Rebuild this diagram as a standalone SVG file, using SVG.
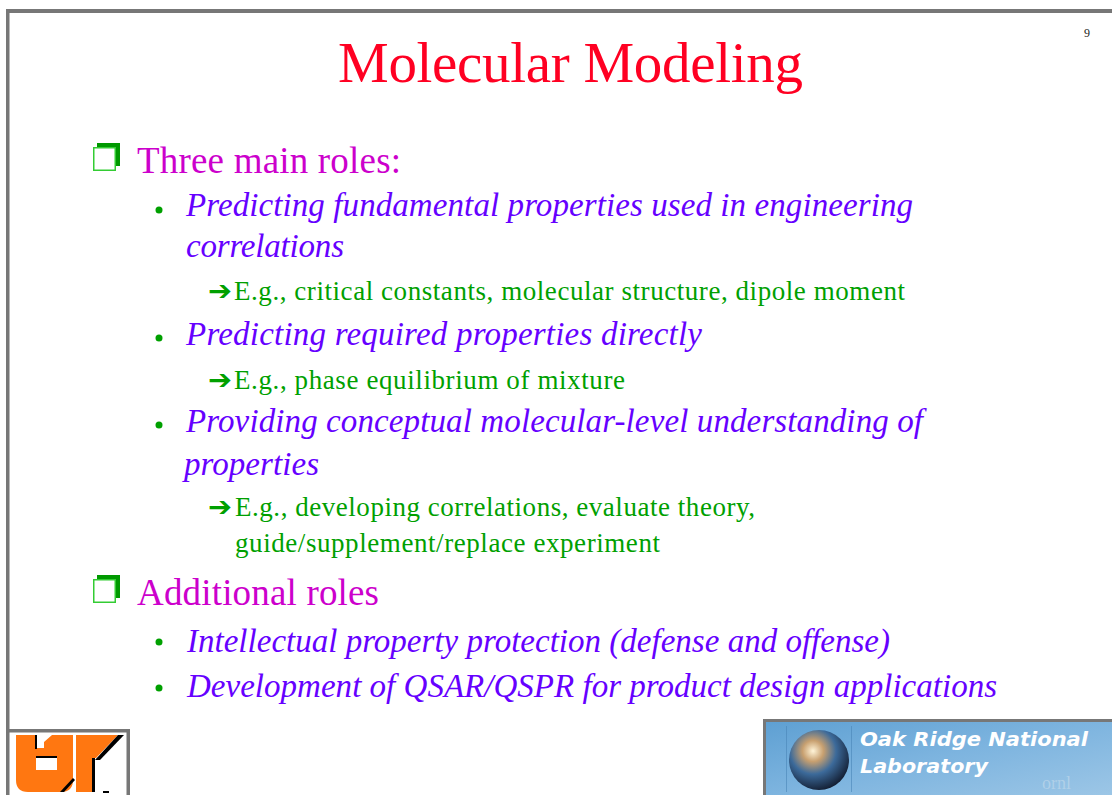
<svg xmlns="http://www.w3.org/2000/svg" width="1112" height="795" viewBox="0 0 1112 795">
<defs>
<style>
.title{font-family:"Liberation Serif","Times New Roman",serif;font-size:57px;fill:#FF0022}
.h1{font-family:"Liberation Serif","Times New Roman",serif;font-size:37px;fill:#CC00CC}
.it{font-family:"Liberation Serif","Times New Roman",serif;font-size:33px;font-style:italic;fill:#6600FF}
.gr{font-family:"Liberation Serif","Times New Roman",serif;font-size:27px;fill:#00A000}
.arw{font-family:"DejaVu Sans",sans-serif;font-size:27px;font-weight:bold;fill:#00A000}
.frame{fill:#777777}
.dot{fill:#00A000}
.ornl{font-family:"DejaVu Sans",sans-serif;font-weight:bold;font-style:italic;font-size:19px;fill:#FFFFFF}
</style>
<linearGradient id="sky" x1="0" y1="0" x2="1" y2="1">
<stop offset="0" stop-color="#5D9FD2"/>
<stop offset="0.5" stop-color="#7DB4DF"/>
<stop offset="1" stop-color="#9CC6E6"/>
</linearGradient>
<radialGradient id="globe" cx="0.4" cy="0.35" r="0.7">
<stop offset="0" stop-color="#FFF4D8"/>
<stop offset="0.25" stop-color="#C8A070"/>
<stop offset="0.55" stop-color="#3C6A9A"/>
<stop offset="1" stop-color="#10182A"/>
</radialGradient>
<g id="box">
<rect x="4" y="0" width="23" height="23" fill="#009900"/>
<rect x="0.75" y="4.75" width="21.5" height="22.5" fill="#FFFFFF" stroke="#33CC33" stroke-width="1.5"/>
</g>
</defs>
<rect width="1112" height="795" fill="#FFFFFF"/>
<g id="frame">
<rect class="frame" x="6" y="9" width="1106" height="4"/>
<rect class="frame" x="6" y="9" width="3.5" height="786"/>
</g>
<text class="title" x="338" y="82" textLength="465" lengthAdjust="spacing">Molecular Modeling</text>
<text x="1084" y="37" font-family="Liberation Serif,serif" font-size="12" fill="#222222">9</text>
<g id="item1">
<use href="#box" x="93" y="143"/>
<text class="h1" x="137" y="173" textLength="264" lengthAdjust="spacing">Three main roles:</text>
</g>
<g id="sub1">
<circle class="dot" cx="159" cy="210" r="3.5"/>
<text class="it" x="186" y="216" textLength="727" lengthAdjust="spacing">Predicting fundamental properties used in engineering</text>
<text class="it" x="186" y="257" textLength="158" lengthAdjust="spacing">correlations</text>
<text class="arw" x="208" y="300" textLength="24" lengthAdjust="spacingAndGlyphs">➔</text>
<text class="gr" x="234" y="300" textLength="671" lengthAdjust="spacing">E.g., critical constants, molecular structure, dipole moment</text>
</g>
<g id="sub2">
<circle class="dot" cx="159" cy="338" r="3.5"/>
<text class="it" x="186" y="345" textLength="516" lengthAdjust="spacing">Predicting required properties directly</text>
<text class="arw" x="208" y="389" textLength="24" lengthAdjust="spacingAndGlyphs">➔</text>
<text class="gr" x="234" y="389" textLength="391" lengthAdjust="spacing">E.g., phase equilibrium of mixture</text>
</g>
<g id="sub3">
<circle class="dot" cx="159" cy="425" r="3.5"/>
<text class="it" x="186" y="432" textLength="737" lengthAdjust="spacing">Providing conceptual molecular-level understanding of</text>
<text class="it" x="184" y="475" textLength="135" lengthAdjust="spacing">properties</text>
<text class="arw" x="208" y="516" textLength="24" lengthAdjust="spacingAndGlyphs">➔</text>
<text class="gr" x="235" y="516" textLength="520" lengthAdjust="spacing">E.g., developing correlations, evaluate theory,</text>
<text class="gr" x="235" y="552" textLength="425" lengthAdjust="spacing">guide/supplement/replace experiment</text>
</g>
<g id="item2">
<use href="#box" x="93" y="575"/>
<text class="h1" x="137" y="605" textLength="242" lengthAdjust="spacing">Additional roles</text>
</g>
<g id="sub4">
<circle class="dot" cx="159" cy="642" r="3.5"/>
<text class="it" x="187" y="652" textLength="703" lengthAdjust="spacing">Intellectual property protection (defense and offense)</text>
</g>
<g id="sub5">
<circle class="dot" cx="159" cy="688" r="3.5"/>
<text class="it" x="187" y="697" textLength="810" lengthAdjust="spacing">Development of QSAR/QSPR for product design applications</text>
</g>
<g id="ut-logo">
<rect class="frame" x="6" y="729" width="124" height="3.5"/>
<rect class="frame" x="126.5" y="729" width="3.5" height="66"/>
<path d="M16 735 H35 V748 H44 V742 L52 735 H73 V780 Q73 792 61 792 H28 Q16 792 16 780 Z M36 756 V770 H57 V756 Z" fill="#FF7711" fill-rule="evenodd"/>
<rect x="36" y="756" width="21" height="2" fill="#000000"/>
<path d="M35 735 H37 V749 H35 Z" fill="#000000"/>
<path d="M73 778 L60 792 H64 L75 780 Z" fill="#000000"/>
<path d="M76 735 H118 L96 758 H92 V792 H76 Z" fill="#FF7711"/>
<path d="M118 735 H124 L100 760 H95 Z" fill="#000000"/>
<rect x="92" y="758" width="3" height="34" fill="#000000"/>
<rect x="103" y="791" width="6" height="2" fill="#000000"/>
</g>
<g id="ornl-logo">
<rect x="763" y="719" width="349" height="76" fill="url(#sky)"/>
<rect class="frame" x="763" y="719" width="349" height="3"/>
<rect class="frame" x="763" y="719" width="3" height="76"/>
<rect x="786" y="726" width="1" height="66" fill="#4A86B8" opacity="0.6"/>
<rect x="851" y="726" width="1" height="66" fill="#4A86B8" opacity="0.6"/>
<circle cx="819" cy="760" r="30" fill="url(#globe)"/>
<text class="ornl" x="860" y="746" textLength="228" lengthAdjust="spacingAndGlyphs">Oak Ridge National</text>
<text class="ornl" x="860" y="773" textLength="128" lengthAdjust="spacingAndGlyphs">Laboratory</text>
<text x="1042" y="789" font-family="Liberation Serif,serif" font-size="18" fill="#B8D4EA" opacity="0.8">ornl</text>
</g>
</svg>
